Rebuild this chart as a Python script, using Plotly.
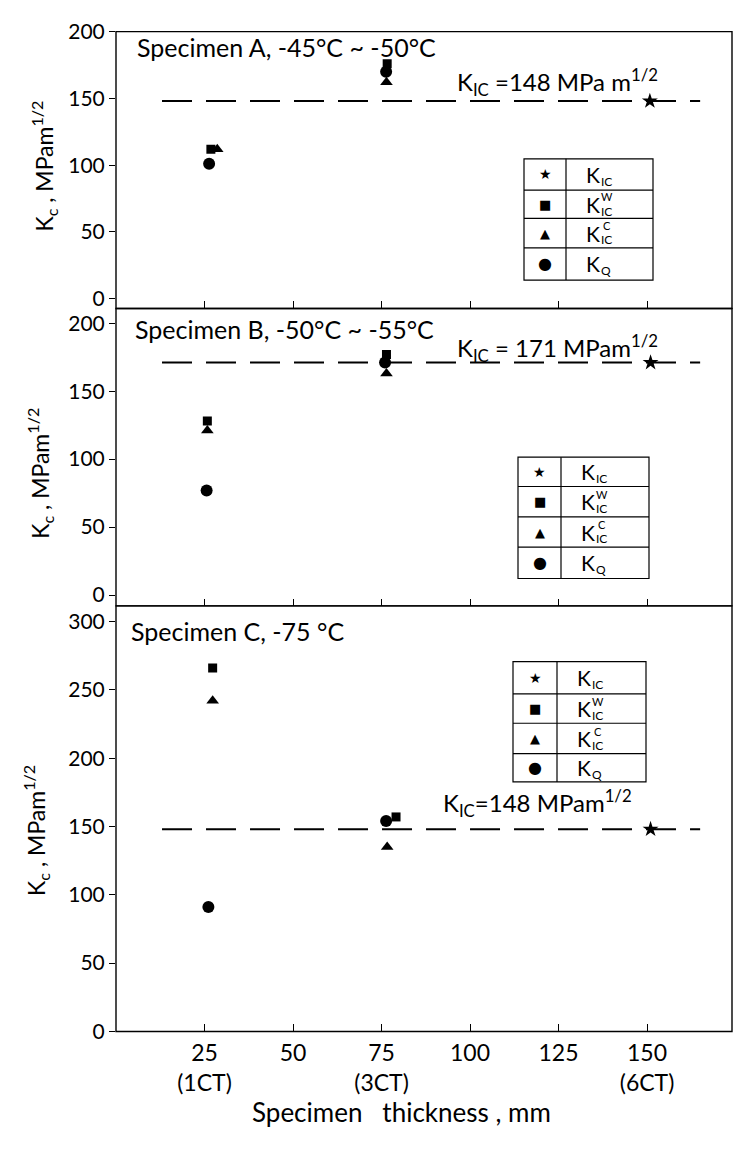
import plotly.graph_objects as go

# ---------------- data ----------------
thickness_ticks = [25, 50, 75, 100, 125, 150]
thickness_labels = ["25<br>(1CT)", "50", "75<br>(3CT)", "100", "125", "150<br>(6CT)"]

# Panel A : Specimen A, -45C ~ -50C
A_x_KICw = [26.8, 76.6]
A_KICw = [112, 176]
A_x_KICc = [28.6, 76.4]
A_KICc = [112, 162]
A_x_KQ = [26.3, 76.3]
A_KQ = [101, 170]
A_x_KIC = [150.8]
A_KIC = [148]

# Panel B : Specimen B, -50C ~ -55C
B_x_KICw = [25.8, 76.4]
B_KICw = [128, 177]
B_x_KICc = [25.8, 76.4]
B_KICc = [121, 163]
B_x_KQ = [25.6, 76.0]
B_KQ = [77, 171]
B_x_KIC = [151]
B_KIC = [171]

# Panel C : Specimen C, -75C
C_x_KICw = [27.3, 79.1]
C_KICw = [266, 157]
C_x_KICc = [27.3, 76.6]
C_KICc = [242, 135]
C_x_KQ = [26.1, 76.3]
C_KQ = [91, 154]
C_x_KIC = [151]
C_KIC = [148]

kic_line_x = [13, 165]
kic_values = [148, 171, 148]
panel_titles = ["Specimen A, -45°C ~ -50°C", "Specimen B, -50°C ~ -55°C", "Specimen C, -75 °C"]
kic_labels = ["K<sub>IC</sub> =148 MPa m<sup>1/2</sup>", "K<sub>IC</sub> = 171 MPam<sup>1/2</sup>",
              "K<sub>IC</sub>=148 MPam<sup>1/2</sup>"]
y_ticks = [[0, 50, 100, 150, 200], [0, 50, 100, 150, 200], [0, 50, 100, 150, 200, 250, 300]]
legend_glyphs = ["★", "■", "▲", "●"]
legend_subs = ["IC", "IC", "IC", "Q"]
legend_sups = ["", "W", "C", ""]

# ---------------- layout helpers ----------------
W, H = 740, 1152
def fx(p):
    return p / W
def fy(p):
    return 1 - p / H

FONT = "Lato"
fig = go.Figure()

panels = [
    ("x", "y", A_x_KICw, A_KICw, A_x_KICc, A_KICc, A_x_KQ, A_KQ, A_x_KIC, A_KIC),
    ("x2", "y2", B_x_KICw, B_KICw, B_x_KICc, B_KICc, B_x_KQ, B_KQ, B_x_KIC, B_KIC),
    ("x3", "y3", C_x_KICw, C_KICw, C_x_KICc, C_KICc, C_x_KQ, C_KQ, C_x_KIC, C_KIC),
]

for i, (xa, ya, xw, kw, xc, kc, xq, kq, xi, ki) in enumerate(panels):
    fig.add_trace(go.Scatter(x=kic_line_x, y=[kic_values[i]] * 2, mode="lines",
                             line=dict(color="black", width=2, dash="30px,14px"),
                             xaxis=xa, yaxis=ya, hoverinfo="skip"))
    fig.add_trace(go.Scatter(x=xw, y=kw, mode="markers", xaxis=xa, yaxis=ya,
                             marker=dict(symbol="square", size=9, color="black")))
    fig.add_trace(go.Scatter(x=xc, y=kc, mode="markers", xaxis=xa, yaxis=ya,
                             marker=dict(symbol="triangle-up", size=11, color="black")))
    fig.add_trace(go.Scatter(x=xq, y=kq, mode="markers", xaxis=xa, yaxis=ya,
                             marker=dict(symbol="circle", size=12, color="black")))
    fig.add_trace(go.Scatter(x=xi, y=ki, mode="markers", xaxis=xa, yaxis=ya,
                             marker=dict(symbol="star", size=12, color="black")))

# panel geometry in pixels (top, bottom) and y ranges
panel_px = [(18, 301), (301, 605), (605, 1040)]
panel_ranges = [[-7.3, 200], [-7.9, 210.8], [0, 311.5]]
x_px = (116, 732)
x_dom = [fx(x_px[0]), fx(x_px[1])]

common_x = dict(range=[0, 174], tickvals=thickness_ticks, ticks="inside", ticklen=7,
                tickcolor="black", tickwidth=1.2, showline=False,
                showgrid=False, zeroline=False, domain=x_dom)
common_y = dict(ticks="outside", ticklen=6, tickcolor="black", tickwidth=1.2,
                showline=False, showgrid=False, zeroline=False,
                tickfont=dict(family=FONT, size=21, color="black"))

layout = dict(
    width=W, height=H, margin=dict(l=0, r=0, t=0, b=0),
    paper_bgcolor="white", plot_bgcolor="white", showlegend=False,
    font=dict(family=FONT, color="black"),
)
layout["xaxis"] = dict(common_x, anchor="y", showticklabels=False)
layout["xaxis2"] = dict(common_x, anchor="y2", showticklabels=False)
layout["xaxis3"] = dict(common_x, anchor="y3", ticktext=thickness_labels, ticklabelstandoff=6,
                        tickfont=dict(family=FONT, size=23, color="black"))
for i, name in enumerate(["yaxis", "yaxis2", "yaxis3"]):
    top, bot = panel_px[i]
    layout[name] = dict(common_y, anchor=["x", "x2", "x3"][i], domain=[fy(bot), fy(top)],
                        range=panel_ranges[i], tickvals=y_ticks[i])
fig.update_layout(**layout)

annotations = []
shapes = []

# panel frames
for top, bot in panel_px:
    shapes.append(dict(type="rect", xref="paper", yref="paper", x0=fx(x_px[0]), x1=fx(x_px[1]),
                       y0=fy(bot), y1=fy(top), line=dict(color="black", width=1.4)))

# panel titles, K_IC labels, y titles
title_px = [(135, 34), (133, 322), (129, 631)]
kic_label_px = [(455, 90), (455, 362), (441, 827)]
ytitle_px = [(44, 156), (40, 470), (36, 835)]
for i in range(3):
    annotations.append(dict(x=fx(title_px[i][0]), y=fy(title_px[i][1]), xref="paper", yref="paper",
                            text=panel_titles[i], showarrow=False, xanchor="left", yanchor="middle",
                            font=dict(family=FONT, size=25, color="black")))
    annotations.append(dict(x=fx(kic_label_px[i][0]), y=fy(kic_label_px[i][1]), xref="paper", yref="paper",
                            text=kic_labels[i], showarrow=False, xanchor="left", yanchor="bottom",
                            font=dict(family=FONT, size=24, color="black")))
    annotations.append(dict(x=fx(ytitle_px[i][0]), y=fy(ytitle_px[i][1]), xref="paper", yref="paper",
                            text="K<sub>c</sub> , MPam<sup>1/2</sup>", showarrow=False, textangle=-90,
                            xanchor="center", yanchor="middle",
                            font=dict(family=FONT, size=23, color="black")))

# x axis title
annotations.append(dict(x=fx(401), y=fy(1122), xref="paper", yref="paper",
                        text="Specimen\u00a0\u00a0 thickness , mm", showarrow=False,
                        xanchor="center", yanchor="middle",
                        font=dict(family=FONT, size=26, color="black")))

# legend tables
legend_boxes = [
    (524, 566, 653, [148, 180, 209, 239, 272]),
    (518, 561, 649, [453, 483, 514, 545, 577]),
    (513, 557, 646, [662, 695, 725, 756, 785]),
]
glyph_sizes = [14, 13, 13, 16]
for x0, xd, x1, rows in legend_boxes:
    shapes.append(dict(type="rect", xref="paper", yref="paper", x0=fx(x0), x1=fx(x1),
                       y0=fy(rows[4]), y1=fy(rows[0]), line=dict(color="black", width=1.2)))
    shapes.append(dict(type="line", xref="paper", yref="paper", x0=fx(xd), x1=fx(xd),
                       y0=fy(rows[4]), y1=fy(rows[0]), line=dict(color="black", width=1.2)))
    for r in rows[1:4]:
        shapes.append(dict(type="line", xref="paper", yref="paper", x0=fx(x0), x1=fx(x1),
                           y0=fy(r), y1=fy(r), line=dict(color="black", width=1.2)))
    for j in range(4):
        cy = (rows[j] + rows[j + 1]) / 2
        annotations.append(dict(x=fx((x0 + xd) / 2), y=fy(cy), xref="paper", yref="paper",
                                text=legend_glyphs[j], showarrow=False, xanchor="center", yanchor="middle",
                                font=dict(family="DejaVu Sans", size=glyph_sizes[j], color="black")))
        # main letter K
        annotations.append(dict(x=fx(xd + 19), y=fy(cy), xref="paper", yref="paper",
                                text="K", showarrow=False, xanchor="left", yanchor="middle",
                                borderpad=0, font=dict(family=FONT, size=21, color="black")))
        # subscript
        annotations.append(dict(x=fx(xd + 34), y=fy(cy + 7), xref="paper", yref="paper",
                                text=legend_subs[j], showarrow=False, xanchor="left", yanchor="middle",
                                borderpad=0, font=dict(family=FONT, size=12, color="black")))
        # superscript stacked above the subscript
        if legend_sups[j]:
            annotations.append(dict(x=fx(xd + 41), y=fy(cy - 7.5), xref="paper", yref="paper",
                                    text=legend_sups[j], showarrow=False, xanchor="center",
                                    yanchor="middle", borderpad=0,
                                    font=dict(family=FONT, size=11, color="black")))

fig.update_layout(annotations=annotations, shapes=shapes)
fig.write_html("out.html")
